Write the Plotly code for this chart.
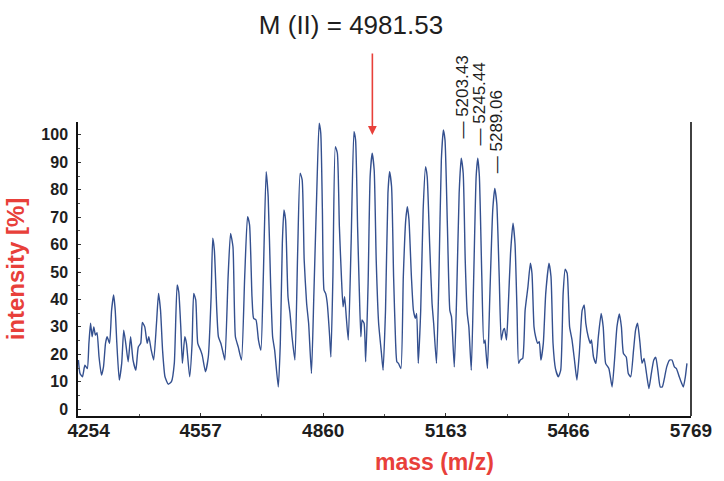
import plotly.graph_objects as go

mass = [4255,4259,4265,4271,4277,4281,4285,4289,4293,4297,
        4301,4306,4312,4317,4322,4326,4332,4337,4342,4346,
        4350,4356,4362,4367,4372,4378,4384,4390,4397,4403,
        4409,4413,4419,4425,4429,4435,4441,4448,4453,4458,
        4463,4469,4477,4485,4492,4499,4503,4508,4512,4518,
        4522,4530,4536,4540,4545,4550,4557,4561,4569,4576,
        4583,4587,4591,4597,4601,4607,4613,4617,4625,4631,
        4637,4643,4650,4658,4666,4673,4678,4684,4688,4694,
        4700,4706,4712,4719,4724,4730,4735,4740,4749,4754,
        4759,4763,4767,4773,4778,4783,4790,4797,4803,4808,
        4813,4819,4824,4831,4837,4844,4850,4854,4858,4862,
        4866,4870,4876,4879,4884,4890,4895,4900,4905,4909,
        4913,4917,4922,4929,4936,4940,4945,4949,4953,4956,
        4961,4965,4971,4976,4981,4986,4991,4997,5004,5008,
        5014,5020,5024,5029,5034,5039,5042,5046,5052,5058,
        5064,5068,5072,5078,5083,5088,5091,5095,5101,5107,
        5113,5117,5123,5129,5133,5140,5146,5152,5157,5161,
        5167,5173,5177,5184,5190,5196,5201,5206,5211,5216,
        5220,5226,5232,5238,5242,5246,5252,5257,5260,5262,
        5266,5272,5279,5284,5289,5295,5300,5305,5308,5313,
        5317,5323,5329,5334,5339,5343,5347,5353,5359,5366,
        5372,5376,5381,5385,5390,5394,5398,5404,5410,5418,
        5423,5428,5434,5441,5447,5453,5458,5463,5469,5475,
        5481,5487,5493,5500,5505,5509,5515,5520,5523,5528,
        5534,5540,5547,5552,5558,5566,5574,5580,5586,5592,
        5597,5602,5609,5614,5620,5627,5632,5637,5643,5648,
        5653,5659,5665,5671,5677,5682,5687,5693,5698,5704,
        5709,5716,5722,5728,5733,5740,5746,5750,5755,5759]

intensity = [17.9,13,11.8,16,14.8,24,31.3,26.4,30,27,
             27.9,19,12.4,15.4,24,26.4,24,36,41.6,36,
             24,10.6,16.7,28.8,24,17.3,26.4,17.9,14.2,22.7,
             24,31.6,30,24,26.4,21.5,17.9,31.3,42.2,36,
             21.5,11.8,9.1,10,16.7,45.3,42.8,30,16.7,26.4,
             24,11.8,24,42.2,39.8,24,21.5,19.7,13.6,19,
             41,62.3,58,36,26.4,24,20.3,17.9,48.3,64.1,
             59.2,26.4,22.7,17.9,48.3,70.2,67.2,41,33.1,32.5,
             25.2,21.5,48.3,86.6,77.5,45.9,26.4,21.5,8.1,24,
             60.5,72.6,69,41,34.9,26.4,17.9,58,86,83.6,
             54.4,38.6,31.3,13,42.2,78.7,104.3,100.6,72.6,43.4,
             42.2,38.6,26.4,19,48.3,95.7,93.3,66.5,48.3,37.3,
             41,33.7,25.2,60.5,101.2,98.2,66.5,44.6,26.4,32.5,
             31.3,17.3,45.9,84.8,93.3,87.2,54.4,31.3,20.3,14.2,
             36,78.7,86.6,81.1,48.3,24,17.3,16.7,14.8,48.3,
             69,73.8,69,48.3,36,33.1,34.9,16.7,36,72.6,
             88.4,84.8,60.5,38.6,31.3,16.7,48.3,90.9,101.8,98.2,
             66.5,36,33.7,15.4,42.2,78.7,91.5,86,54.4,34.9,
             30,14.2,48.3,84.8,91.5,84.8,48.3,24,25.2,21.5,
             14.8,42.2,72.6,80.5,75,48.3,25.2,28.8,29.4,25.2,
             36,56.8,67.8,60.5,36,16.7,17.9,18.5,36,44.6,
             53.2,49.5,30,26.4,24,24.6,17.9,24,42.2,53.2,
             48.3,24,14.8,11.8,14.2,42.2,51,49.5,30,25.2,
             17.9,10.6,20.3,36,38,31.3,26.4,24,25.2,19,
             16.7,26.4,34.9,30,16.7,14.8,8.1,17.9,30,34.7,
             30,20.3,19,13,11.8,21.5,28.8,31.3,24,16.7,
             18.5,13,7.5,13,17.9,18.9,14.2,8.1,8.1,11.8,
             15.4,17.9,17.9,15.4,14.8,11.8,9.4,8.1,11.8,16.7]

x_ticks = [4254, 4557, 4860, 5163, 5466, 5769]
x_ticktext = ["\u00a0\u00a0\u00a0\u00a04254", "4557", "4860", "5163", "5466", "5769"]
y_ticks = [0, 10, 20, 30, 40, 50, 60, 70, 80, 90, 100]

main_mass = 4981.53
main_label = "M (II) = 4981.53"
peak_masses = [5203.43, 5245.44, 5289.06]
peak_labels = ["5203.43", "5245.44", "5289.06"]
peak_label_base = [97.8, 95.3, 85.4]

RED = "#e8403a"
INK = "#1e1e1e"
FONT = "Liberation Sans, Arial, sans-serif"

fig = go.Figure()
fig.add_trace(go.Scatter(
    x=mass, y=intensity, mode="lines",
    line=dict(color="#34508f", width=1.4, shape="spline", smoothing=0.5),
    hoverinfo="skip",
))

annotations = []
# arrow for M(II)
annotations.append(dict(
    x=main_mass, y=100, xref="x", yref="y", text="", showarrow=True,
    ax=0, ay=-83, arrowcolor=RED, arrowwidth=1.6, arrowhead=2, arrowsize=1.1,
))
for m, lab, yb in zip(peak_masses, peak_labels, peak_label_base):
    annotations.append(dict(
        x=m, y=yb, xref="x", yref="y", text="\u2014 " + lab, showarrow=False,
        textangle=-90, xanchor="center", yanchor="bottom",
        font=dict(family=FONT, size=17, color=INK),
    ))
annotations.append(dict(
    x=0.581, y=-0.158, xref="paper", yref="paper", text="mass (m/z)",
    showarrow=False, xanchor="center", yanchor="middle",
    font=dict(family=FONT, size=23, color=RED, weight="bold"),
))

fig.update_layout(
    width=724, height=481,
    margin=dict(l=78, r=25, t=122, b=65),
    plot_bgcolor="white", paper_bgcolor="white",
    showlegend=False,
    title=dict(
        text=main_label, x=351/724, xanchor="center", xref="container",
        y=1 - 25/481, yanchor="middle", yref="container",
        font=dict(family=FONT, size=26, color=INK),
    ),
    annotations=annotations,
    shapes=[dict(type="line", xref="x domain", yref="y domain", x0=1, x1=1, y0=0, y1=1,
                 line=dict(color="#111", width=1.6))],
)

fig.update_xaxes(
    range=[4254, 5769], tickvals=x_ticks, ticktext=x_ticktext,
    showline=True, linecolor="#111", linewidth=1.5,
    ticks="inside", ticklen=3, tickcolor="#333", tickwidth=1,
    minor=dict(ticks="inside", ticklen=2, tick0=4254, dtick=151.5, tickcolor="#555"),
    tickfont=dict(family=FONT, size=19, color=INK, weight="bold"),
    ticklabelstandoff=-4,
    showgrid=False, zeroline=False,
)
fig.update_yaxes(
    range=[-2.5, 104.7], tickvals=y_ticks,
    showline=True, linecolor="#111", linewidth=1.5,
    ticks="inside", ticklen=3, tickcolor="#333", tickwidth=1,
    minor=dict(ticks="inside", ticklen=2, tick0=0, dtick=5, tickcolor="#555"),
    tickfont=dict(family=FONT, size=16, color=INK, weight="bold"),
    ticklabelstandoff=5,
    title=dict(text="intensity [%]", standoff=10,
               font=dict(family=FONT, size=24, color=RED, weight="bold")),
    showgrid=False, zeroline=False,
)

fig.write_html("out.html")
